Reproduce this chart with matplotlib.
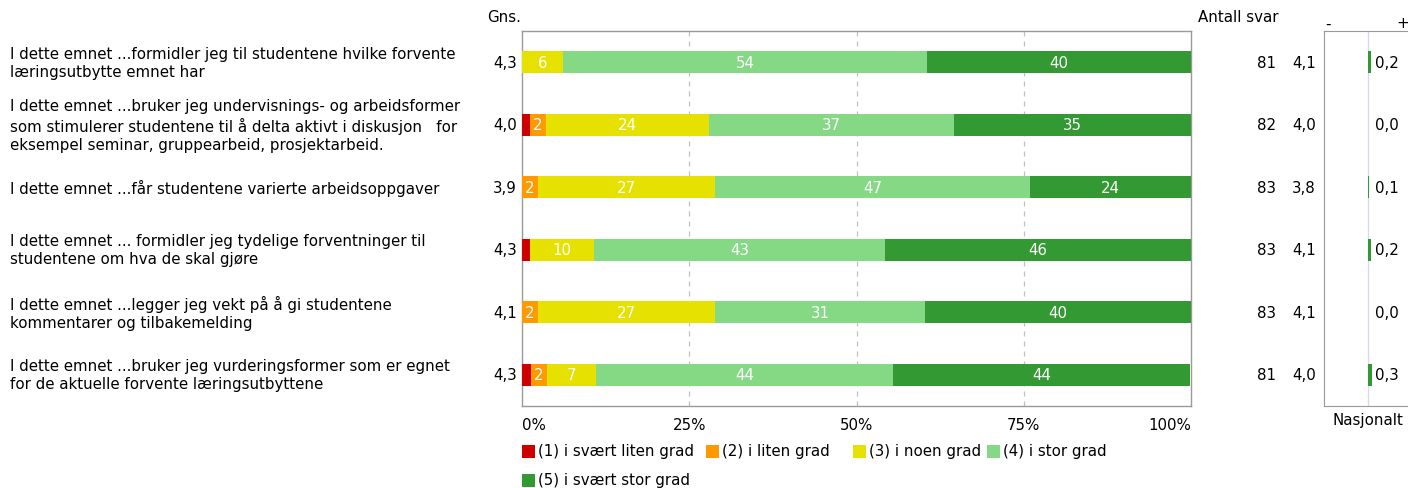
import matplotlib
matplotlib.use("Agg")
import matplotlib.pyplot as plt
from matplotlib.transforms import blended_transform_factory
from matplotlib.patches import Rectangle

questions = [
    "I dette emnet ...formidler jeg til studentene hvilke forvente\nlæringsutbytte emnet har",
    "I dette emnet ...bruker jeg undervisnings- og arbeidsformer\nsom stimulerer studentene til å delta aktivt i diskusjon   for\neksempel seminar, gruppearbeid, prosjektarbeid.",
    "I dette emnet ...får studentene varierte arbeidsoppgaver",
    "I dette emnet ... formidler jeg tydelige forventninger til\nstudentene om hva de skal gjøre",
    "I dette emnet ...legger jeg vekt på å gi studentene\nkommentarer og tilbakemelding",
    "I dette emnet ...bruker jeg vurderingsformer som er egnet\nfor de aktuelle forvente læringsutbyttene",
]
categories = ["(1) i svært liten grad", "(2) i liten grad", "(3) i noen grad",
              "(4) i stor grad", "(5) i svært stor grad"]
# percentage share per answer category, per question
p1 = [0.0, 1.2, 0.0, 1.2, 0.0, 1.3]
p2 = [0.0, 2.4, 2.4, 0.0, 2.4, 2.4]
p3 = [6.2, 24.4, 26.5, 9.6, 26.5, 7.4]
p4 = [54.3, 36.6, 47.0, 43.4, 31.3, 44.4]
p5 = [39.5, 35.4, 24.1, 45.8, 39.8, 44.4]
gns = ["4,3", "4,0", "3,9", "4,3", "4,1", "4,3"]
antall = [81, 82, 83, 83, 83, 81]
nat_avg = ["4,1", "4,0", "3,8", "4,1", "4,1", "4,0"]
nat_diff = [0.2, 0.0, 0.1, 0.2, 0.0, 0.3]
xticks = [0, 25, 50, 75, 100]
xticklabels = ["0%", "25%", "50%", "75%", "100%"]

colors = ["#CC0000", "#FF9900", "#E6E100", "#85D985", "#339933"]

W, H = 1408, 489
fig = plt.figure(figsize=(W / 100, H / 100), dpi=100)
plt.rcParams['font.family'] = ['DejaVu Sans']
FS = 10.8

def fx(px):
    return px / W

def fy(py):
    return 1 - py / H

ax = fig.add_axes([fx(522), fy(407), fx(1191) - fx(522), fy(32) - fy(407)])
rows = list(range(len(questions)))
series = [p1, p2, p3, p4, p5]
left = [0.0] * len(rows)
bh = 0.35
for s, c in zip(series, colors):
    ax.barh(rows, s, left=left, height=bh, color=c, linewidth=0, zorder=3)
    for i, v in enumerate(s):
        if v >= 2:
            ax.text(left[i] + v / 2, i, f"{int(v + 0.5)}", color="white", fontsize=FS,
                    ha="center", va="center", zorder=4)
    left = [a + b for a, b in zip(left, s)]

ax.set_xlim(0, 100)
ax.set_ylim(len(rows) - 0.5, -0.5)
ax.set_yticks([])
ax.set_xticks(xticks)
ax.set_xticklabels(xticklabels, fontsize=FS)
for lbl, ha in zip(ax.get_xticklabels(), ["left", "center", "center", "center", "right"]):
    lbl.set_ha(ha)
ax.tick_params(axis="x", length=0, pad=8)
for x in xticks[1:-1]:
    ax.axvline(x, color="#C0C0C0", linestyle=(0, (4, 4)), linewidth=0.9, zorder=1)
for sp in ax.spines.values():
    sp.set_color("#999999")
    sp.set_linewidth(1)

tr = blended_transform_factory(fig.transFigure, ax.transData)
for i, q in enumerate(questions):
    ax.text(fx(10), i, q, transform=tr, fontsize=FS, ha="left", va="center",
            linespacing=1.27)
    ax.text(fx(517), i, gns[i], transform=tr, fontsize=FS, ha="right", va="center")
    ax.text(fx(1276), i, str(antall[i]), transform=tr, fontsize=FS, ha="right", va="center")
    ax.text(fx(1316), i, nat_avg[i], transform=tr, fontsize=FS, ha="right", va="center")

fig.text(fx(487), fy(18), "Gns.", fontsize=FS, ha="left", va="center")
fig.text(fx(1198), fy(18), "Antall svar", fontsize=FS, ha="left", va="center")

# national comparison panel
ax2 = fig.add_axes([fx(1324), fy(407), fx(88), fy(32) - fy(407)])
ax2.set_xlim(-3.3, 3.3)
ax2.set_ylim(len(rows) - 0.5, -0.5)
ax2.axvline(0, color="#D8D8F0", linewidth=1, zorder=1)
ax2.barh(rows, nat_diff, height=bh, color="#339933", linewidth=0, zorder=3)
for i, d in enumerate(nat_diff):
    ax2.text(0.5, i, f"{d:.1f}".replace(".", ","), fontsize=FS, ha="left", va="center")
ax2.set_xticks([])
ax2.set_yticks([])
for sp in ax2.spines.values():
    sp.set_color("#999999")
ax2.spines["right"].set_visible(False)
fig.text(fx(1328), fy(24), "-", fontsize=FS, ha="center", va="center")
fig.text(fx(1403), fy(24), "+", fontsize=FS, ha="center", va="center")
fig.text(fx(1368), fy(421), "Nasjonalt", fontsize=FS, ha="center", va="center")

# legend
leg_items = [(522, 452), (706, 452), (853, 452), (987, 452), (522, 481)]
for (x, y), lab, c in zip(leg_items, categories, colors):
    fig.patches.append(Rectangle((fx(x), fy(y + 7)), fx(13), fy(y - 6) - fy(y + 7),
                                 transform=fig.transFigure, color=c, linewidth=0))
    fig.text(fx(x + 16), fy(y), lab, fontsize=FS, ha="left", va="center")

fig.savefig("out.png", dpi=100)
